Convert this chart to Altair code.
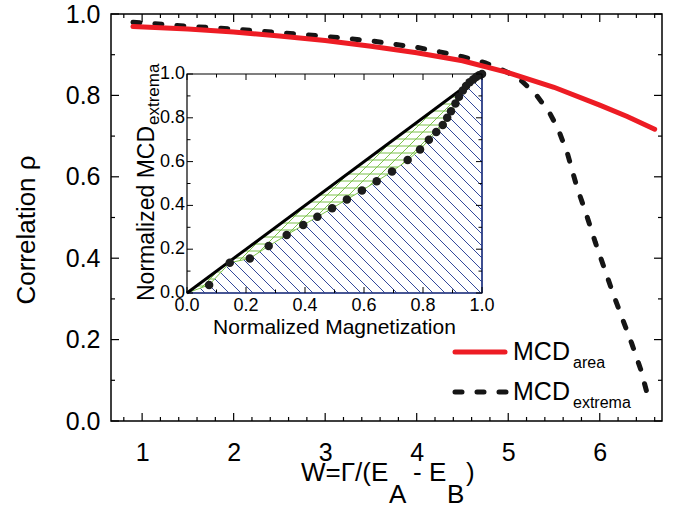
import numpy as np
import pandas as pd
import altair as alt

# Main panel: correlation rho versus W = Gamma/(E_A - E_B)
area_w = [0.9, 1.5, 2.0, 2.5, 3.0, 3.5, 4.0, 4.5, 5.0, 5.5, 6.0, 6.3, 6.6]
area_rho = [0.969, 0.963, 0.956, 0.946, 0.935, 0.921, 0.905, 0.885, 0.856, 0.820, 0.776, 0.748, 0.717]

ext_w = [0.9, 1.5, 2.0, 2.5, 3.0, 3.5, 4.0, 4.25, 4.5, 4.75, 5.0, 5.15, 5.3, 5.45,
         5.55, 5.65, 5.75, 5.85, 5.95, 6.05, 6.15, 6.25, 6.35, 6.45, 6.53]
ext_rho = [0.980, 0.970, 0.963, 0.954, 0.945, 0.934, 0.918, 0.907, 0.895, 0.880, 0.856, 0.835,
           0.803, 0.758, 0.715, 0.655, 0.575, 0.510, 0.440, 0.375, 0.310, 0.250, 0.190, 0.125, 0.057]

# Inset: normalized MCD extrema versus normalized magnetization
mag = [0.075, 0.145, 0.213, 0.277, 0.338, 0.394, 0.442, 0.492, 0.542, 0.593, 0.643, 0.695,
       0.748, 0.79, 0.82, 0.845, 0.867, 0.882, 0.895, 0.91, 0.922, 0.935, 0.946, 0.958,
       0.97, 0.98, 0.99, 1.0]
mcd_ext = [0.037, 0.138, 0.158, 0.215, 0.265, 0.31, 0.348, 0.387, 0.427, 0.468, 0.51, 0.555,
           0.607, 0.655, 0.70, 0.735, 0.767, 0.80, 0.83, 0.865, 0.896, 0.925, 0.945, 0.962,
           0.975, 0.986, 0.994, 1.0]

# Tick positions
x_major = [1, 2, 3, 4, 5, 6]
x_minor = [round(v, 1) for v in np.arange(0.8, 6.61, 0.2) if abs(v - round(v)) > 1e-6]
y_major = [0.0, 0.2, 0.4, 0.6, 0.8, 1.0]
y_minor = [0.1, 0.3, 0.5, 0.7, 0.9]
inset_major = [0.0, 0.2, 0.4, 0.6, 0.8, 1.0]
inset_minor = [0.1, 0.3, 0.5, 0.7, 0.9]

FONT = "Liberation Sans, Arial, Helvetica, sans-serif"
RED = "#ed1c24"
BLK = "#151515"
BLUE = "#34499b"
GREEN = "#7cc24a"

W, H = 551, 407
IX0, IX1 = 76, 371      # inset x range (pixels inside the plot area)
IY0, IY1 = 279, 60      # inset y range: value 0 -> IY0, value 1 -> IY1

xs = alt.Scale(domain=[0.66, 6.68], nice=False, zero=False)
ys = alt.Scale(domain=[0, 1], nice=False, zero=False)
ixs = alt.Scale(domain=[0, 1], range=[IX0, IX1], nice=False, zero=False)
iys = alt.Scale(domain=[0, 1], range=[IY0, IY1], nice=False, zero=False)

x_axis = alt.Axis(values=x_major, title=None, ticks=False, tickSize=0, domain=False, grid=False,
                  labelFontSize=25, labelFont=FONT, labelColor="black", labelPadding=19,
                  labelFlush=False, labelOverlap=False)
y_axis = alt.Axis(values=y_major, format=".1f", title=None, ticks=False, tickSize=0, domain=False,
                  grid=False, labelFontSize=25, labelFont=FONT, labelColor="black",
                  labelPadding=11, labelFlush=False, labelOverlap=False)


def mx(f):
    return alt.X(f"{f}:Q", scale=xs, axis=x_axis)


def my(f):
    return alt.Y(f"{f}:Q", scale=ys, axis=y_axis)


def ix(f):
    return alt.X(f"{f}:Q", scale=ixs, axis=None)


def iy(f):
    return alt.Y(f"{f}:Q", scale=iys, axis=None)


one = pd.DataFrame({"k": [0]})


def label(text, x, y, size, angle=0, align="left", baseline="alphabetic"):
    return alt.Chart(one).mark_text(
        text=text, font=FONT, fontSize=size, color="black", align=align,
        baseline=baseline, angle=angle
    ).encode(x=alt.value(x), y=alt.value(y))


# ---- main curves
area_df = pd.DataFrame({"w": area_w, "rho": area_rho})
ext_df = pd.DataFrame({"w": ext_w, "rho": ext_rho})

ext_line = alt.Chart(ext_df).mark_line(
    color=BLK, strokeWidth=5, strokeDash=[7, 15], strokeCap="round"
).encode(x=mx("w"), y=my("rho"))
area_line = alt.Chart(area_df).mark_line(
    color=RED, strokeWidth=5, strokeCap="round"
).encode(x=mx("w"), y=my("rho"))

# ---- inward ticks on all four sides of the main frame
def tick_layers(vals, length):
    d = pd.DataFrame({"t": vals})
    r = dict(color="black", strokeWidth=1.2)
    return [
        alt.Chart(d).mark_rule(**r).encode(x=mx("t"), y=alt.value(H), y2=alt.value(H - length)),
        alt.Chart(d).mark_rule(**r).encode(x=mx("t"), y=alt.value(0), y2=alt.value(length)),
    ]


def ytick_layers(vals, length):
    d = pd.DataFrame({"t": vals})
    r = dict(color="black", strokeWidth=1.2)
    return [
        alt.Chart(d).mark_rule(**r).encode(y=my("t"), x=alt.value(0), x2=alt.value(length)),
        alt.Chart(d).mark_rule(**r).encode(y=my("t"), x=alt.value(W), x2=alt.value(W - length)),
    ]


main_ticks = (tick_layers(x_major, 8) + tick_layers(x_minor, 4)
              + ytick_layers(y_major, 8) + ytick_layers(y_minor, 4))

# ---- legend
legend = [
    alt.Chart(one).mark_rule(color=RED, strokeWidth=5, strokeCap="round").encode(
        x=alt.value(344), x2=alt.value(394), y=alt.value(338)),
    alt.Chart(one).mark_rule(color=BLK, strokeWidth=5, strokeDash=[7, 15], strokeCap="round").encode(
        x=alt.value(344), x2=alt.value(396), y=alt.value(378)),
    label("MCD", 402, 346, 25),
    label("area", 462, 354, 16),
    label("MCD", 402, 386, 25),
    label("extrema", 462, 394, 16),
]

# ---- axis titles
titles = [
    label("Correlation \u03c1", -76, 216, 26, angle=270, align="center"),
    label("W=\u0393/(E", 190, 467, 26),
    label("A", 278, 489, 26),
    label("- E", 302, 467, 26),
    label("B", 336, 489, 26),
    label(")", 355, 467, 26),
]

main = alt.layer(ext_line, area_line, *main_ticks, *legend, *titles)

# ---- inset hatching (45 degree lines on screen, clipped to the shaded regions)
cx = np.array([0.0] + mag)
cy = np.array([0.0] + mcd_ext)
xx = np.linspace(0.0, 1.0, 2001)
fx = np.interp(xx, cx, cy)
K = (IX1 - IX0) / (IY0 - IY1)


def clip(yline, lower, upper):
    mask = (yline >= lower) & (yline <= upper)
    edges = np.flatnonzero(np.diff(np.concatenate([[0], mask.astype(int), [0]])))
    out = []
    for s, e in zip(edges[::2], edges[1::2]):
        if e - s >= 3:
            out.append((xx[s], yline[s], xx[e - 1], yline[e - 1]))
    return out


blue_segs = []
bstep = 12.0 / (IY0 - IY1)
for b in np.arange(bstep * 0.5, 1 + K, bstep):
    blue_segs += clip(-K * xx + b, 0.0, fx)

green_segs = []
hstep = 7.0 / (IY0 - IY1)
for c in np.arange(hstep, 1.0, hstep):
    green_segs += clip(np.full_like(xx, c), fx, xx)
gstep = 11.0 / (IY0 - IY1)
for b in np.arange(-K, 1.0, gstep):
    green_segs += clip(K * xx + b, fx, xx)

cols = ["x1", "y1", "x2", "y2"]
blue_df = pd.DataFrame(blue_segs, columns=cols)
green_df = pd.DataFrame(green_segs, columns=cols)


def seg_layer(df, color, width):
    return alt.Chart(df).mark_rule(color=color, strokeWidth=width).encode(
        x=ix("x1"), x2=alt.X2("x2:Q"), y=iy("y1"), y2=alt.Y2("y2:Q"))


blue_hatch = seg_layer(blue_df, BLUE, 1)
green_hatch = seg_layer(green_df, GREEN, 1)

curve_df = pd.DataFrame({"m": cx, "v": cy})
green_edge = alt.Chart(curve_df).mark_line(color=GREEN, strokeWidth=1).encode(x=ix("m"), y=iy("v"))

box_df = pd.DataFrame({"a": [0.0], "b": [1.0]})
frame = alt.Chart(box_df).mark_rect(filled=False, stroke="black", strokeWidth=1.2).encode(
    x=ix("a"), x2=alt.X2("b:Q"), y=iy("a"), y2=alt.Y2("b:Q"))

border_df = pd.DataFrame({"x1": [0.0, 1.0], "y1": [0.0, 0.0], "x2": [1.0, 1.0], "y2": [0.0, 1.0]})
blue_border = seg_layer(border_df, BLUE, 1.6)

diag_df = pd.DataFrame({"m": [0.0, 1.0], "v": [0.0, 1.0]})
diag = alt.Chart(diag_df).mark_line(color="black", strokeWidth=3).encode(x=ix("m"), y=iy("v"))

dots_df = pd.DataFrame({"m": mag, "v": mcd_ext})
dots = alt.Chart(dots_df).mark_circle(color="#1c1c1c", size=72, opacity=1).encode(
    x=ix("m"), y=iy("v"))


def inset_ticks(vals, length):
    d = pd.DataFrame({"t": vals})
    r = dict(color="black", strokeWidth=1)
    return [
        alt.Chart(d).mark_rule(**r).encode(x=ix("t"), y=alt.value(IY0), y2=alt.value(IY0 - length)),
        alt.Chart(d).mark_rule(**r).encode(x=ix("t"), y=alt.value(IY1), y2=alt.value(IY1 + length)),
        alt.Chart(d).mark_rule(**r).encode(y=iy("t"), x=alt.value(IX0), x2=alt.value(IX0 + length)),
        alt.Chart(d).mark_rule(**r).encode(y=iy("t"), x=alt.value(IX1), x2=alt.value(IX1 - length)),
    ]


ilab_df = pd.DataFrame({"t": inset_major})
inset_xlabels = alt.Chart(ilab_df).mark_text(
    font=FONT, fontSize=18, color="black", align="center", baseline="alphabetic"
).encode(x=ix("t"), y=alt.value(IY0 + 18), text=alt.Text("t:Q", format=".1f"))
inset_ylabels = alt.Chart(ilab_df).mark_text(
    font=FONT, fontSize=18, color="black", align="right", baseline="middle"
).encode(y=iy("t"), x=alt.value(IX0 - 2), text=alt.Text("t:Q", format=".1f"))

inset_titles = [
    label("Normalized Magnetization", (IX0 + IX1) / 2, 320, 21, align="center"),
    label("Normalized MCD", 43, 287, 23, angle=270),
    label("extrema", 48, 111, 17, angle=270),
]

inset = alt.layer(
    blue_hatch, green_hatch, green_edge, frame, blue_border, diag, dots,
    *inset_ticks(inset_major, 6), *inset_ticks(inset_minor, 3.5),
    inset_xlabels, inset_ylabels, *inset_titles,
)

chart = alt.layer(main, inset).resolve_scale(x="independent", y="independent").properties(
    width=W, height=H,
    autosize=alt.AutoSizeParams(type="none"),
    padding={"left": 111, "top": 14, "right": 11, "bottom": 90},
).configure_view(stroke="black", strokeWidth=1.5)

chart.save("out.html", embed_options={"renderer": "svg", "actions": False})
